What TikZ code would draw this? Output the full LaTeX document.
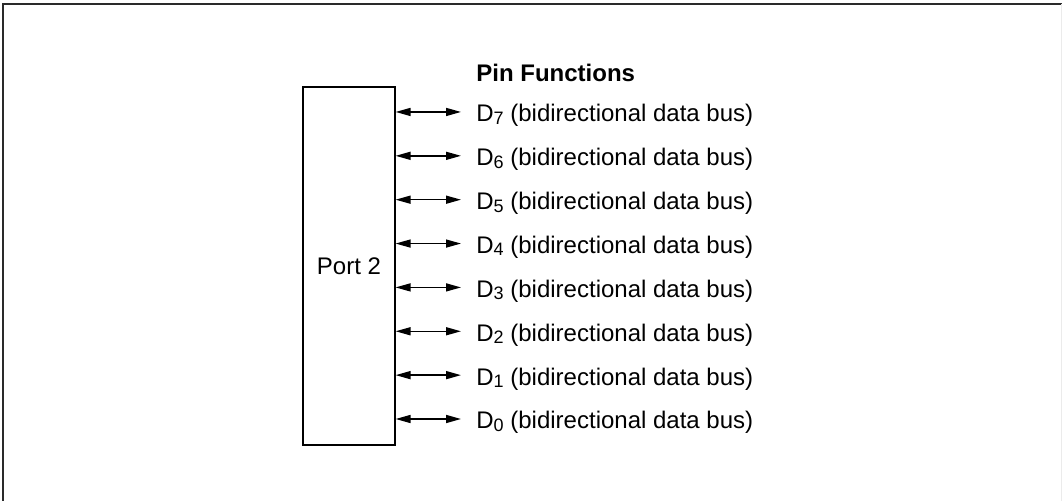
\documentclass[tikz,border=0pt]{standalone}
\usepackage{fontspec}
\setmainfont{Liberation Sans}
\usetikzlibrary{arrows.meta}
\definecolor{FrameInk} {HTML}{2A2A2A}
\definecolor{EdgeGrey} {HTML}{EBEBEB}
\definecolor{Ink}      {HTML}{000000}
\newcommand{\pinsub}[1]{\raisebox{-1.2pt}{\fontsize{9}{10}\selectfont#1}}

\begin{document}
\begin{tikzpicture}[x=0.5pt, y=-0.5pt, font=\fontsize{12}{14}\selectfont,
  pinlabel/.style={anchor=west, inner xsep=7.5pt, inner ysep=0pt,
                   text height=10pt, text depth=0pt, text=Ink},
  bus/.style={{Triangle[length=7.5pt,width=4pt]}-{Triangle[length=7.5pt,width=4pt]},
              line width=0.75pt, Ink}]

  \useasboundingbox (0,0) rectangle (1062,501);

  % ===== FRAME (cropped) =====
  \draw[line width=0.7pt, FrameInk] (3,501) -- (3,4) -- (1062,4);
  \draw[line width=0.5pt, EdgeGrey] (1061,4) -- (1061,501);

  % ===== PORT BLOCK =====
  \node[draw=Ink, line width=0.6pt, minimum width=46pt, minimum height=179pt,
        inner sep=0pt] (port) at (349,266) {Port 2};

  % ===== PIN LIST =====
  \node[pinlabel, font=\fontsize{12}{14}\selectfont\bfseries] (title) at (461,72)
        {Pin Functions};
  \foreach \i in {0,...,7}{
    \node[pinlabel] (d\i) at (461,{419-43.86*\i})
          {D\pinsub{\i} (bidirectional data bus)};
    \draw[bus] (port.east |- d\i.west) -- (d\i.west);
  }

\end{tikzpicture}
\end{document}
